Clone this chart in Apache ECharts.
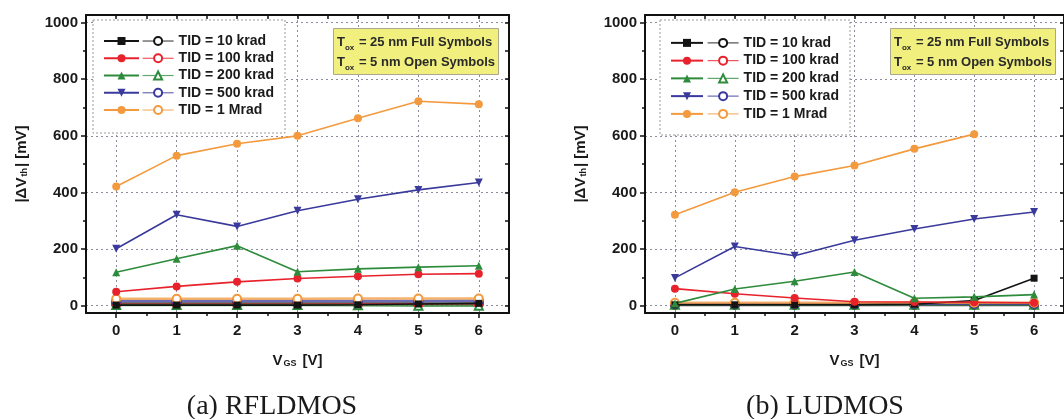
<!DOCTYPE html>
<html><head><meta charset="utf-8">
<script src="https://cdn.jsdelivr.net/npm/echarts@6/dist/echarts.min.js"></script>
<style>html,body{margin:0;padding:0;background:#fff}#c{width:1064px;height:419px}</style>
</head><body><div id="c"></div>
<script>
// ---------------- data ----------------
const VGS = [0, 1, 2, 3, 4, 5, 6];
const TID_NAMES = ['TID = 10 krad', 'TID = 100 krad', 'TID = 200 krad', 'TID = 500 krad', 'TID = 1 Mrad'];
const X_TICKS = [0, 1, 2, 3, 4, 5, 6];
const X_MINOR = [0.5, 1.5, 2.5, 3.5, 4.5, 5.5];
const Y_TICKS = [0, 200, 400, 600, 800, 1000];
const Y_MINOR = [100, 300, 500, 700, 900];
const CAPTIONS = ['(a) RFLDMOS', '(b) LUDMOS'];

// RFLDMOS, Tox = 25 nm (full symbols)
const rf25_10k  = [2, 2, 2, 2, 3, 6, 8];
const rf25_100k = [49, 68, 84, 96, 104, 111, 113];
const rf25_200k = [118, 166, 212, 120, 130, 136, 141];
const rf25_500k = [201, 321, 280, 335, 376, 409, 435];
const rf25_1M   = [421, 530, 572, 600, 662, 722, 712];
// RFLDMOS, Tox = 5 nm (open symbols)
const rf5_10k  = [8, 8, 8, 8, 8, 8, 8];
const rf5_100k = [4, 4, 4, 4, 4, 5, 5];
const rf5_200k = [2, 2, 2, 2, 1, 0, 0];
const rf5_500k = [16, 16, 16, 16, 16, 16, 17];
const rf5_1M   = [24, 24, 24, 24, 25, 25, 25];

// LUDMOS, Tox = 25 nm (full symbols)
const lu25_10k  = [3, 3, 3, 3, 5, 18, 97];
const lu25_100k = [60, 42, 27, 14, 13, 12, 10];
const lu25_200k = [8, 59, 86, 119, 26, 31, 39];
const lu25_500k = [98, 209, 176, 231, 271, 306, 331];
const lu25_1M   = [321, 401, 456, 495, 554, 606];
// LUDMOS, Tox = 5 nm (open symbols)
const lu5_10k  = [2, 2, 2, 2, 2, 2, 2];
const lu5_100k = [5, 5, 5, 5, 5, 5, 5];
const lu5_200k = [3, 3, 3, 3, 3, 3, 3];
const lu5_500k = [6, 6, 6, 6, 6, 6, 6];
const lu5_1M   = [10, 10, 10, 10, 10, 10, 10];

// ---------------- styles ----------------
const COLORS = ['#141414', '#e8222c', '#2e8b3c', '#3a3a9c', '#f39a3e'];
const FILLED_SYM = ['rect', 'circle', 'triangle', 'triangle', 'circle'];
const FILLED_ROT = [0, 0, 0, 180, 0];
const OPEN_SYM = ['emptyCircle', 'emptyCircle', 'emptyTriangle', 'emptyCircle', 'emptyCircle'];
const FONT = '"Liberation Sans", Arial, sans-serif';
const OPEN_SUFFIX = ' (5 nm)';

const PLOTS = [
  {full: [rf25_10k, rf25_100k, rf25_200k, rf25_500k, rf25_1M], open: [rf5_10k, rf5_100k, rf5_200k, rf5_500k, rf5_1M]},
  {full: [lu25_10k, lu25_100k, lu25_200k, lu25_500k, lu25_1M], open: [lu5_10k, lu5_100k, lu5_200k, lu5_500k, lu5_1M]}
];
const GRIDS = [
  {left: 86, top: 15, width: 423, height: 298},
  {left: 645, top: 15, width: 426, height: 298}
];
const LEG = [
  {box: [93, 20, 192, 113], fullLeft: 103, fullW: 35, openLeft: 142, openW: 31, top: 32.4, lh: 17.25},
  {box: [660, 20, 190, 115], fullLeft: 670, fullW: 32, openLeft: 707, openW: 31, top: 34, lh: 17.75}
];
const NOTE = [{left: 333, top: 28}, {left: 890, top: 28}];
const CAP_X = [272, 825];

const XMIN = -0.5, XMAX = 6.5, YMIN = -26, YMAX = 1027;
const gridLine = {show: true, lineStyle: {color: '#8c8c9c', type: [2, 3], width: 1}};
const frame = {show: true, onZero: false, lineStyle: {color: '#111', width: 2}};
const noLine = {show: false, onZero: false};
const tickStyle = {color: '#111', width: 1.5};
const plain = v => String(v);

const grid = [], xAxis = [], yAxis = [], series = [], legend = [], title = [], graphic = [];

PLOTS.forEach((p, g) => {
  grid.push(Object.assign({containLabel: false}, GRIDS[g]));
  // x axes: main bottom, minor bottom, top frame
  xAxis.push({
    gridIndex: g, type: 'value', min: XMIN, max: XMAX, position: 'bottom',
    axisLine: frame,
    axisTick: {show: true, customValues: X_TICKS, length: 5, lineStyle: tickStyle},
    axisLabel: {show: true, customValues: X_TICKS, formatter: plain, margin: 10, fontFamily: FONT, fontWeight: 'bold', fontSize: 15, color: '#1a1a1a'},
    splitLine: gridLine,
    name: 'V{s|GS} [V]', nameLocation: 'middle', nameGap: 40,
    nameTextStyle: {fontFamily: FONT, fontWeight: 'bold', fontSize: 15, color: '#1a1a1a',
      rich: {s: {fontFamily: FONT, fontWeight: 'bold', fontSize: 9, color: '#1a1a1a', verticalAlign: 'bottom', padding: [0, 2, 0, 1]}}}
  });
  xAxis.push({
    gridIndex: g, type: 'value', min: XMIN, max: XMAX, position: 'bottom',
    axisLine: noLine,
    axisTick: {show: true, customValues: X_MINOR, length: 3, lineStyle: tickStyle},
    axisLabel: {show: false}, splitLine: {show: false}
  });
  xAxis.push({
    gridIndex: g, type: 'value', min: XMIN, max: XMAX, position: 'top',
    axisLine: frame,
    axisTick: {show: true, inside: true, customValues: X_TICKS.concat(X_MINOR), length: 4, lineStyle: tickStyle},
    axisLabel: {show: false}, splitLine: {show: false}
  });
  // y axes: main left, minor left, right frame
  yAxis.push({
    gridIndex: g, type: 'value', min: YMIN, max: YMAX, position: 'left',
    axisLine: frame,
    axisTick: {show: true, customValues: Y_TICKS, length: 5, lineStyle: tickStyle},
    axisLabel: {show: true, customValues: Y_TICKS, formatter: plain, margin: 8, fontFamily: FONT, fontWeight: 'bold', fontSize: 15, color: '#1a1a1a'},
    splitLine: gridLine,
    name: '|ΔV{s|th}| [mV]', nameLocation: 'middle', nameGap: 57, nameRotate: 90,
    nameTextStyle: {fontFamily: FONT, fontWeight: 'bold', fontSize: 15, color: '#1a1a1a',
      rich: {s: {fontFamily: FONT, fontWeight: 'bold', fontSize: 9, color: '#1a1a1a', verticalAlign: 'bottom', padding: [0, 1, 0, 1]}}}
  });
  yAxis.push({
    gridIndex: g, type: 'value', min: YMIN, max: YMAX, position: 'left',
    axisLine: noLine,
    axisTick: {show: true, customValues: Y_MINOR, length: 3, lineStyle: tickStyle},
    axisLabel: {show: false}, splitLine: {show: false}
  });
  yAxis.push({
    gridIndex: g, type: 'value', min: YMIN, max: YMAX, position: 'right',
    axisLine: frame,
    axisTick: {show: true, inside: true, customValues: Y_TICKS.concat(Y_MINOR), length: 4, lineStyle: tickStyle},
    axisLabel: {show: false}, splitLine: {show: false}
  });

  TID_NAMES.forEach((name, i) => {
    series.push({
      type: 'line', name: name + OPEN_SUFFIX, xAxisIndex: g * 3, yAxisIndex: g * 3,
      data: p.open[i].map((v, j) => [VGS[j], v]),
      symbol: OPEN_SYM[i], symbolSize: 8, color: COLORS[i],
      itemStyle: {color: COLORS[i], borderWidth: 1.5},
      lineStyle: {color: COLORS[i], width: 2.5, opacity: 0.75}, z: 3, animation: false
    });
  });
  TID_NAMES.forEach((name, i) => {
    series.push({
      type: 'line', name: name, xAxisIndex: g * 3, yAxisIndex: g * 3,
      data: p.full[i].map((v, j) => [VGS[j], v]),
      symbol: FILLED_SYM[i], symbolRotate: FILLED_ROT[i], symbolSize: i === 0 ? 7 : 8, color: COLORS[i],
      itemStyle: {color: COLORS[i]},
      lineStyle: {color: COLORS[i], width: 1.6}, z: 4, animation: false
    });
  });

  const L = LEG[g];
  graphic.push({type: 'rect', z: 1, shape: {x: L.box[0], y: L.box[1], width: L.box[2], height: L.box[3]},
    style: {fill: '#fff', stroke: '#9a9a9a', lineWidth: 1, lineDash: [2, 2]}});
  const legText = {fontFamily: FONT, fontWeight: 'bold', fontSize: 14, color: '#1a1a1a', lineHeight: L.lh};
  legend.push({
    orient: 'vertical', left: L.fullLeft, top: L.top, padding: 0, itemGap: 0,
    itemWidth: L.fullW, itemHeight: 10, selectedMode: false,
    data: TID_NAMES, formatter: () => ' ', textStyle: legText
  });
  legend.push({
    orient: 'vertical', left: L.openLeft, top: L.top, padding: 0, itemGap: 0,
    itemWidth: L.openW, itemHeight: 10, selectedMode: false,
    lineStyle: {width: 1.2},
    data: TID_NAMES.map(n => n + OPEN_SUFFIX), formatter: n => n.replace(OPEN_SUFFIX, ''), textStyle: legText
  });

  title.push({
    left: NOTE[g].left, top: NOTE[g].top, padding: [4, 4, 3, 4],
    backgroundColor: '#f1ef7d', borderColor: '#a8a890', borderWidth: 1,
    text: '{n|T}{s|ox}{n| = 25 nm Full Symbols}\n{n|T}{s|ox}{n| = 5 nm Open Symbols}',
    textStyle: {fontFamily: FONT, fontWeight: 'bold', fontSize: 13, color: '#2a2a2a', lineHeight: 20,
      rich: {
        n: {fontFamily: FONT, fontWeight: 'bold', fontSize: 13, color: '#2a2a2a', lineHeight: 20},
        s: {fontFamily: FONT, fontWeight: 'bold', fontSize: 8, color: '#2a2a2a', lineHeight: 20, verticalAlign: 'bottom', padding: [0, 1, 0, 0]}
      }}
  });

  graphic.push({type: 'text', z: 10, x: CAP_X[g], y: 407,
    style: {text: CAPTIONS[g], font: '28px "Liberation Serif", "DejaVu Serif", serif', fill: '#1a1a1a', textAlign: 'center', textVerticalAlign: 'middle'}});
});

const chart = echarts.init(document.getElementById('c'), null, {renderer: 'canvas'});
chart.setOption({animation: false, backgroundColor: '#fff', grid, xAxis, yAxis, series, legend, title, graphic});
</script></body></html>
